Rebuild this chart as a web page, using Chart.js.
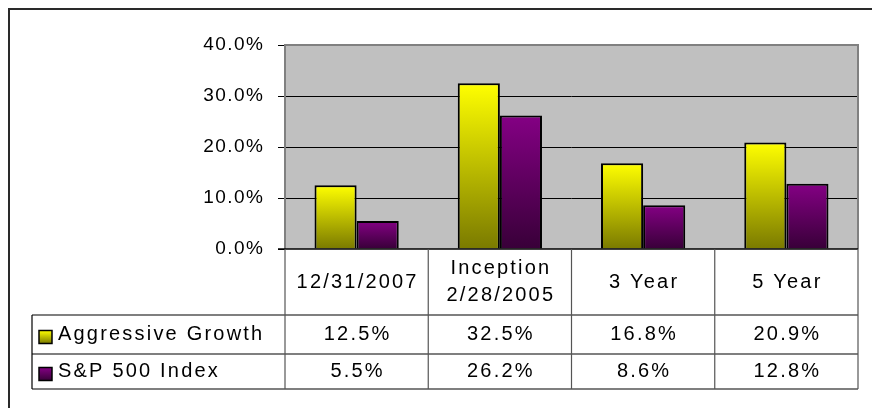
<!DOCTYPE html>
<html>
<head>
<meta charset="utf-8">
<script src="https://cdn.jsdelivr.net/npm/chart.js@4/dist/chart.umd.min.js"></script>
<style>
  html, body { margin: 0; padding: 0; background: #ffffff; }
  canvas { display: block; }
</style>
</head>
<body>
<canvas id="c" width="872" height="408"></canvas>
<script>
// ---- data ----
const categories = ["12/31/2007", ["Inception", "2/28/2005"], "3 Year", "5 Year"];
const seriesNames = ["Aggressive Growth", "S&P 500 Index"];
const aggressiveGrowth = [12.5, 32.5, 16.8, 20.9];
const sp500Index = [5.5, 26.2, 8.6, 12.8];
const yTicks = [0, 10, 20, 30, 40];

const FONT = '"Liberation Sans", Arial, sans-serif';
const gradStops = [
  ["#ffff00", "#7a7a00"],
  ["#840084", "#380038"]
];

function barGradient(ctx, dsIndex) {
  const chart = ctx.chart;
  const area = chart.chartArea;
  if (!area || ctx.parsed === undefined) return gradStops[dsIndex][0];
  const y = chart.scales.y;
  const top = y.getPixelForValue(ctx.parsed.y);
  const bot = y.getPixelForValue(0);
  const g = chart.ctx.createLinearGradient(0, top, 0, bot);
  g.addColorStop(0, gradStops[dsIndex][0]);
  g.addColorStop(1, gradStops[dsIndex][1]);
  return g;
}

const tablePlugin = {
  id: 'tablePlugin',
  beforeDraw(chart) {
    const c = chart.ctx, a = chart.chartArea;
    c.save();
    c.fillStyle = '#ffffff';
    c.fillRect(0, 0, chart.width, chart.height);
    c.fillStyle = '#c0c0c0';
    c.fillRect(a.left, a.top, a.right - a.left, a.bottom - a.top);
    c.restore();
    if ('letterSpacing' in c) c.letterSpacing = '1.5px';
  },
  afterDraw(chart) {
    const c = chart.ctx, a = chart.chartArea;
    const xs = chart.scales.x;
    const n = categories.length;
    const bounds = [];
    for (let i = 0; i <= n; i++) {
      bounds.push(a.left + (a.right - a.left) * i / n);
    }
    c.save();
    // plot area border (gray)
    c.strokeStyle = '#808080';
    c.lineWidth = 2;
    c.beginPath();
    c.moveTo(a.left, a.bottom);
    c.lineTo(a.left, a.top);
    c.lineTo(a.right, a.top);
    c.lineTo(a.right, a.bottom);
    c.stroke();
    // zero line black
    c.strokeStyle = '#000000';
    c.lineWidth = 1.5;
    c.beginPath();
    c.moveTo(a.left - 7, a.bottom);
    c.lineTo(a.right, a.bottom);
    c.stroke();

    // table geometry
    const headTop = a.bottom;
    const headBot = 315;
    const row1Bot = 354;
    const row2Bot = 389;
    const tabLeft = 32;

    // horizontal lines
    c.strokeStyle = '#000000';
    c.lineWidth = 1.2;
    [headBot, row1Bot, row2Bot].forEach(y => {
      c.beginPath();
      c.moveTo(tabLeft, y);
      c.lineTo(a.right, y);
      c.stroke();
    });
    // vertical lines
    c.strokeStyle = '#555555';
    c.lineWidth = 1.2;
    bounds.forEach(x => {
      c.beginPath();
      c.moveTo(x, headTop);
      c.lineTo(x, row2Bot);
      c.stroke();
    });
    c.strokeStyle = '#000000';
    c.beginPath();
    c.moveTo(tabLeft, headBot);
    c.lineTo(tabLeft, row2Bot);
    c.stroke();

    // text
    c.fillStyle = '#000000';
    c.font = '20px ' + FONT;
    c.textBaseline = 'middle';
    c.textAlign = 'center';
    if ('letterSpacing' in c) c.letterSpacing = '2.2px';
    const headMid = (headTop + headBot) / 2;
    categories.forEach((lab, i) => {
      const cx = xs.getPixelForValue(i) + 1;
      const lines = Array.isArray(lab) ? lab : [lab];
      const lh = 27;
      lines.forEach((ln, k) => {
        const y = headMid + (k - (lines.length - 1) / 2) * lh;
        c.fillText(ln, cx, y);
      });
    });
    const rows = [aggressiveGrowth, sp500Index];
    const rowMids = [(headBot + row1Bot) / 2, (row1Bot + row2Bot) / 2];
    rows.forEach((vals, r) => {
      vals.forEach((v, i) => {
        const cx = xs.getPixelForValue(i) + 1;
        c.fillText(v.toFixed(1) + '%', cx, rowMids[r]);
      });
      // legend swatch
      const sy = rowMids[r] - 4;
      const g = c.createLinearGradient(0, sy, 0, sy + 13);
      g.addColorStop(0, gradStops[r][0]);
      g.addColorStop(1, gradStops[r][1]);
      c.fillStyle = g;
      c.fillRect(39, sy, 13, 13);
      c.strokeStyle = '#000000';
      c.lineWidth = 1.5;
      c.strokeRect(39, sy, 13, 13);
      c.fillStyle = '#000000';
      c.textAlign = 'left';
      c.fillText(seriesNames[r], 58, rowMids[r]);
      c.textAlign = 'center';
    });
    if ('letterSpacing' in c) c.letterSpacing = '0px';

    // outer frame
    c.strokeStyle = '#2a2a2a';
    c.lineWidth = 2;
    c.beginPath();
    c.moveTo(9, chart.height + 2);
    c.lineTo(9, 9);
    c.lineTo(chart.width + 2, 9);
    c.stroke();
    c.restore();
  }
};

new Chart(document.getElementById('c'), {
  type: 'bar',
  data: {
    labels: categories,
    datasets: [
      {
        label: seriesNames[0],
        data: aggressiveGrowth,
        backgroundColor: ctx => barGradient(ctx, 0),
        borderColor: '#000000',
        borderWidth: 2
      },
      {
        label: seriesNames[1],
        data: sp500Index,
        backgroundColor: ctx => barGradient(ctx, 1),
        borderColor: '#000000',
        borderWidth: 2
      }
    ]
  },
  options: {
    responsive: false,
    devicePixelRatio: 1,
    animation: false,
    events: [],
    layout: { padding: { left: 0, top: 45, right: 14, bottom: 159 } },
    datasets: { bar: { categoryPercentage: 0.588, barPercentage: 1.0 } },
    plugins: { legend: { display: false }, tooltip: { enabled: false }, title: { display: false } },
    scales: {
      x: { display: false },
      y: {
        min: 0, max: 40,
        afterFit(scale) { scale.width = 285; },
        afterBuildTicks(scale) { scale.ticks = yTicks.map(v => ({ value: v })); },
        ticks: {
          padding: 13.5,
          color: '#000000',
          font: { family: FONT, size: 19 },
          callback: v => Number(v).toFixed(1) + '%'
        },
        border: { display: false },
        grid: {
          color: ctx => (ctx.tick && (ctx.tick.value === 40 || ctx.tick.value === 0)) ? 'rgba(0,0,0,0)' : '#000000',
          tickColor: '#000000',
          tickLength: 7,
          lineWidth: 1
        }
      }
    }
  },
  plugins: [tablePlugin]
});
</script>
</body>
</html>
